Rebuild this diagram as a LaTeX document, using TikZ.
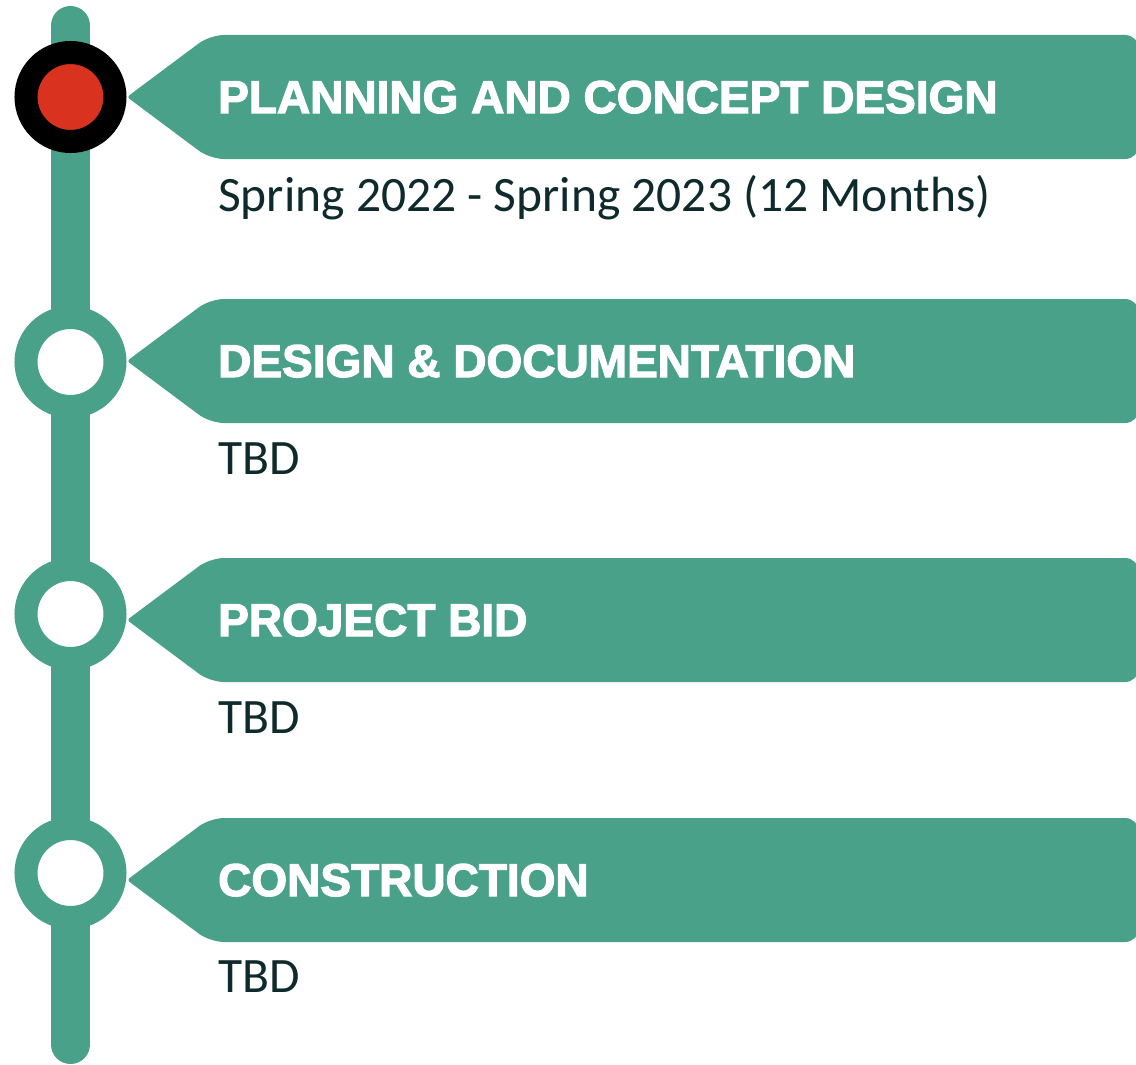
\documentclass[tikz,border=0pt]{standalone}
\usepackage{fontspec}
\setmainfont{Carlito}
\newfontfamily\headfont[FakeBold=2.6]{Liberation Sans}
\definecolor{tlgreen}{HTML}{48A188}
\definecolor{tlred}{HTML}{D9321F}
\definecolor{tltext}{HTML}{0F2A2C}
\begin{document}
\begin{tikzpicture}[x=1pt,y=-1pt,
  ring/.style={circle, minimum size=89pt, inner sep=0pt, line width=23pt, draw=tlgreen, fill=white},
  curring/.style={ring, draw=black, fill=tlred},
  banner/.style={fill=tlgreen},
  heading/.style={anchor=base west, inner sep=0pt, text=white, font=\headfont\bfseries\fontsize{46}{50}\selectfont},
  subtext/.style={anchor=base west, inner sep=0pt, text=tltext, font=\fontsize{49.5}{54}\selectfont},
  rail/.style={draw=tlgreen, line width=39pt, line cap=round}]
\useasboundingbox (0,0) rectangle (1136,1065);
\clip (0,0) rectangle (1136,1065);
\coordinate (top) at (70.5,25.5);
\coordinate (bottom) at (70.5,1044.5);
\draw[rail] (top) -- (bottom);
% banners
\foreach \m in {97,361,620,880}{
  \fill[banner] (168.5,\m-31) [rounded corners=14pt] -- (210,\m-62) -- (1139,\m-62) -- (1139,\m+62) -- (210,\m+62) [rounded corners=3pt] -- (127,\m) -- cycle;
}
\node[curring] (c1) at (70.5,97) {};
\node[ring] (c2) at (70.5,362) {};
\node[ring] (c3) at (70.5,614) {};
\node[ring] (c4) at (70.5,873) {};
\node[heading] (h1) at (218,113) {PLANNING AND CONCEPT DESIGN};
\node[heading] (h2) at (218,377) {DESIGN \& DOCUMENTATION};
\node[heading] (h3) at (218,636) {PROJECT BID};
\node[heading] (h4) at (218,896) {CONSTRUCTION};
\node[subtext] (s1) at (218,211) {Spring 2022 - Spring 2023 (12 Months)};
\node[subtext] (s2) at (218,474) {TBD};
\node[subtext] (s3) at (218,733) {TBD};
\node[subtext] (s4) at (218,992) {TBD};
\end{tikzpicture}
\end{document}
